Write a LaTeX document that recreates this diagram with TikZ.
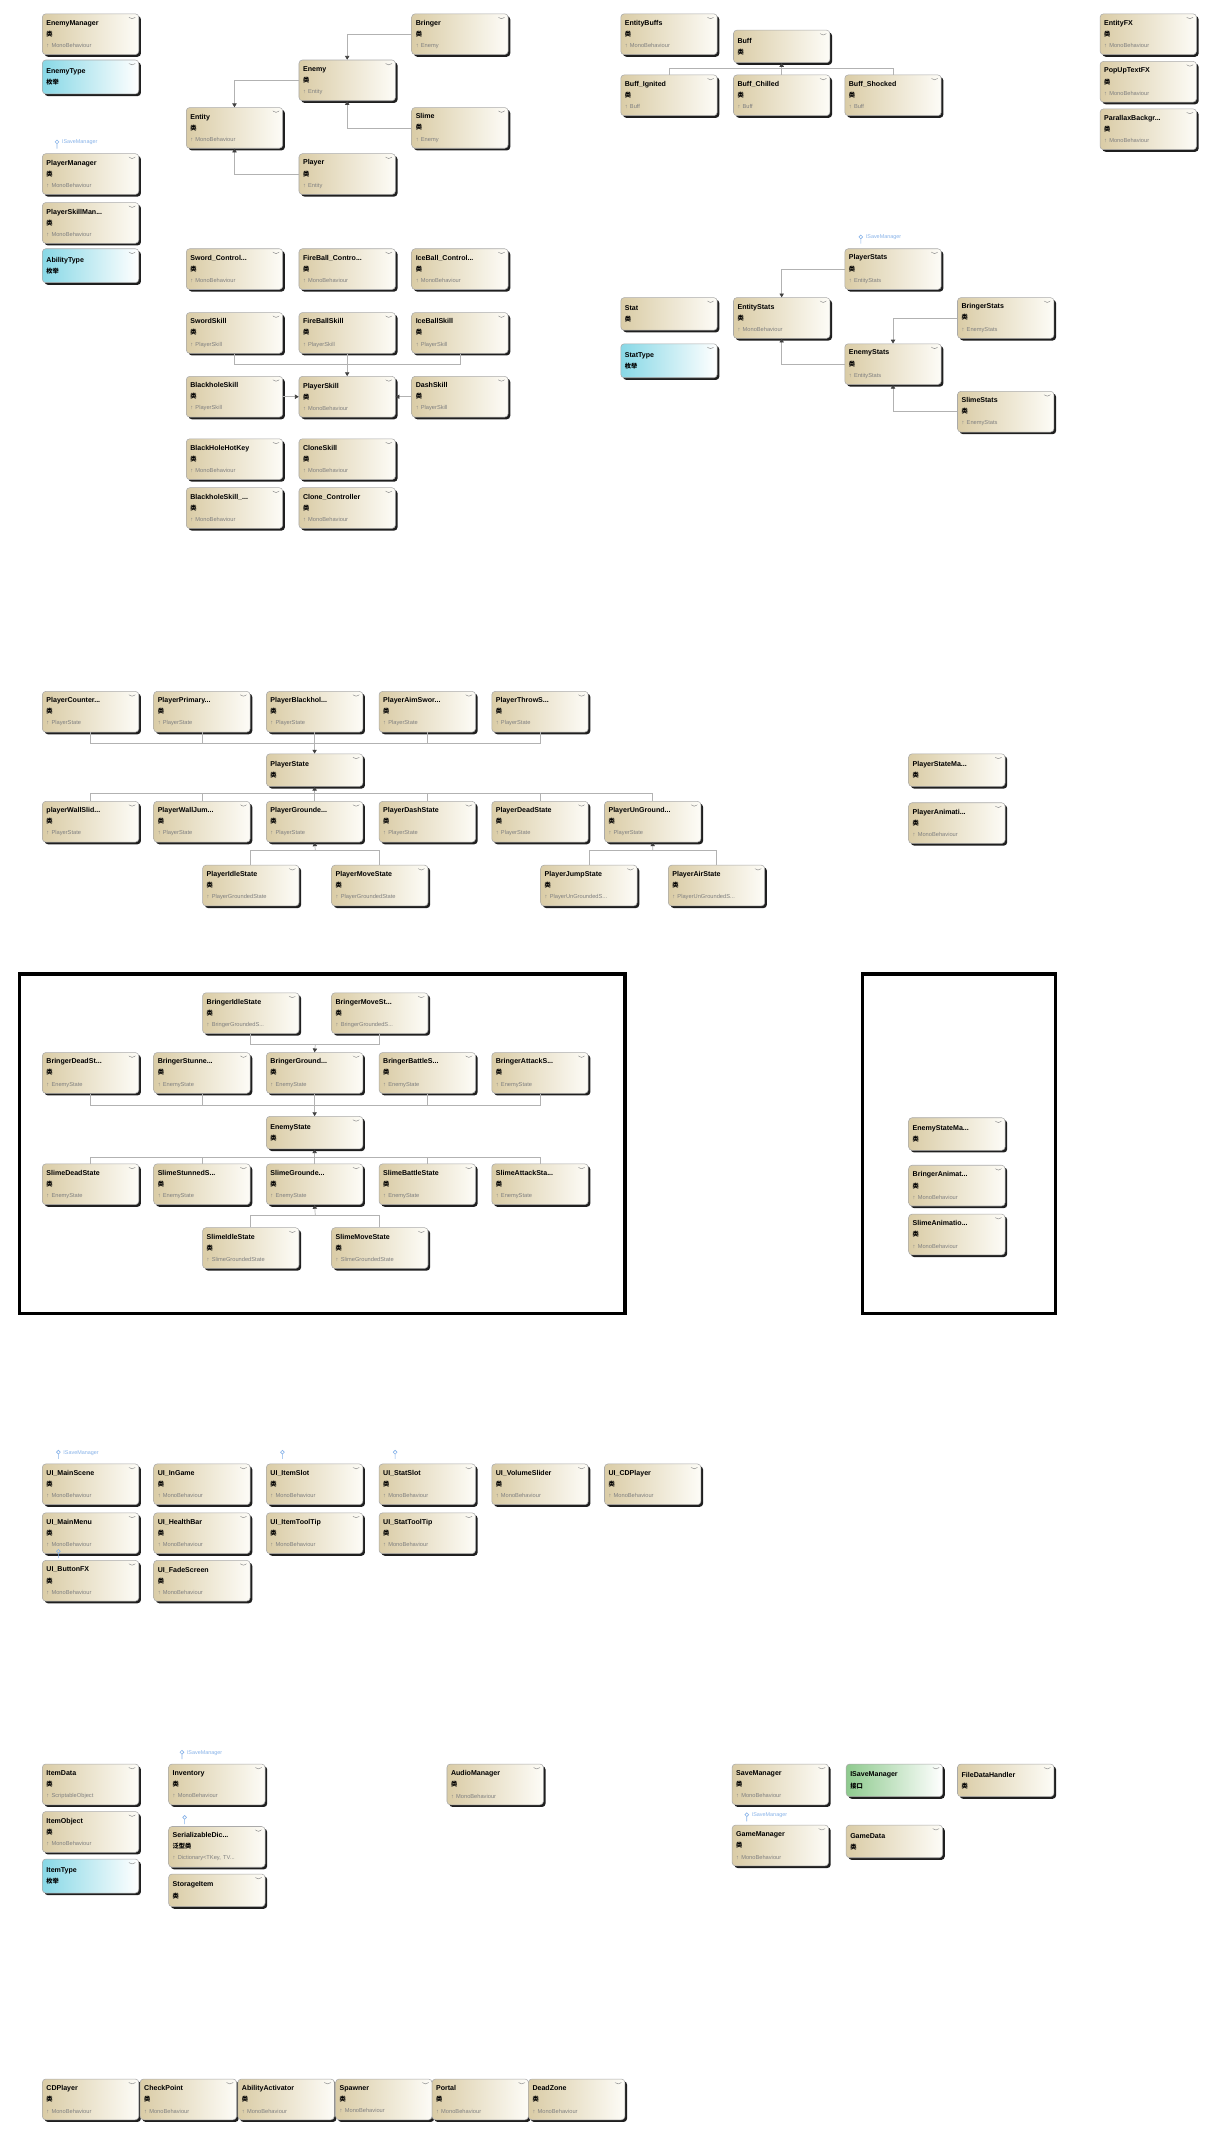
\documentclass[tikz,border=0pt]{standalone}
\usepackage{fontspec}
\setmainfont{Liberation Sans}
\newfontfamily\cjkf{Noto Sans CJK SC}
\usetikzlibrary{shadows,arrows.meta,calc}
\definecolor{tanL}{RGB}{218,204,166}
\definecolor{tanR}{RGB}{253,252,247}
\definecolor{enumL}{RGB}{136,216,230}
\definecolor{intfL}{RGB}{142,202,142}
\definecolor{edgeGray}{RGB}{170,170,170}
\definecolor{lineGray}{RGB}{178,178,178}
\definecolor{lollyBlue}{RGB}{135,178,232}
\newcommand\ttl[1]{{\bfseries\fontsize{5.2}{8.2}\selectfont #1}}
\newcommand\knd[1]{{\cjkf\bfseries\fontsize{4.6}{8.2}\selectfont #1}}
\newcommand\bse[1]{{\color{black!50}\fontsize{4.2}{8.2}\selectfont ↑ #1}}
\tikzset{
  box/.style={draw=edgeGray, line width=.4pt, rounded corners=2.5pt, anchor=north west,
    text width=65pt, align=left, inner xsep=3pt, inner ysep=2pt,
    font=\fontsize{5}{8.2}\selectfont,
    drop shadow={shadow xshift=1.6pt, shadow yshift=-1.6pt, fill=black!88, opacity=1},
    path picture={\draw[black!45, line width=.35pt]
      ([xshift=-6.5pt,yshift=-3pt]path picture bounding box.north east)
      -- ++(1.6pt,-1.6pt) -- ++(1.6pt,1.6pt);}},
  cbox/.style={box, left color=tanL, right color=tanR, minimum height=30pt},
  ctwobox/.style={box, left color=tanL, right color=tanR, minimum height=24pt},
  ebox/.style={box, left color=enumL, right color=white, minimum height=25pt},
  ibox/.style={box, left color=intfL, right color=white, minimum height=24pt},
  link/.style={draw=lineGray, line width=.5pt},
  inh/.style={link, -{Triangle[length=2.8pt,width=3.2pt,color=black!75]}},
  frame/.style={draw=black, line width=2.6pt, anchor=north west, inner sep=0pt},
  lolly/.style={anchor=west, inner sep=0pt, text=lollyBlue, font=\fontsize{4}{5}\selectfont},
  lollyc/.style={draw=lollyBlue, line width=.45pt}
}
\newcommand\mkcls[5]{\node[cbox] (#1) at (#2,#3) {\ttl{#4}\\\knd{类}\\\bse{#5}};}
\newcommand\mkctwo[4]{\node[ctwobox] (#1) at (#2,#3) {\ttl{#4}\\\knd{类}};}
\newcommand\mkenum[4]{\node[ebox] (#1) at (#2,#3) {\ttl{#4}\\\knd{枚举}};}
\newcommand\mkicon[2]{\draw[lollyc] (#1,#2-0.5) circle[radius=1.4pt] (#1,#2+0.9) -- (#1,#2+4.5);}
\newcommand\mklolly[4]{\mkicon{#2}{#3}\node[lolly] (#1) at (#2+3.5,#3) {#4};}
\begin{document}
\begin{tikzpicture}[x=1pt,y=-1pt]
\useasboundingbox (0,0) rectangle (892,1568);

% ---------- top left ----------
\mkcls{enemyMgr}{31}{10}{EnemyManager}{MonoBehaviour}
\mkenum{enemyType}{31}{44}{EnemyType}
\mklolly{lolA}{42}{105}{ISaveManager}
\mkcls{playerMgr}{31}{113}{PlayerManager}{MonoBehaviour}
\mkcls{skillMgr}{31}{149}{PlayerSkillMan...}{MonoBehaviour}
\mkenum{abilityType}{31}{183}{AbilityType}

% ---------- entity hierarchy ----------
\mkcls{bringer}{303}{10}{Bringer}{Enemy}
\mkcls{enemy}{220}{44}{Enemy}{Entity}
\mkcls{entity}{137}{79}{Entity}{MonoBehaviour}
\mkcls{slime}{303}{79}{Slime}{Enemy}
\mkcls{player}{220}{113}{Player}{Entity}
\draw[inh] (bringer.west) -| (enemy.north);
\draw[inh] (enemy.west) -| (entity.north);
\draw[inh] (slime.west) -| (enemy.south);
\draw[inh] (player.west) -| (entity.south);

% ---------- skills ----------
\mkcls{swordCtl}{137}{183}{Sword\_Control...}{MonoBehaviour}
\mkcls{fireCtl}{220}{183}{FireBall\_Contro...}{MonoBehaviour}
\mkcls{iceCtl}{303}{183}{IceBall\_Control...}{MonoBehaviour}
\mkcls{swordSk}{137}{230}{SwordSkill}{PlayerSkill}
\mkcls{fireSk}{220}{230}{FireBallSkill}{PlayerSkill}
\mkcls{iceSk}{303}{230}{IceBallSkill}{PlayerSkill}
\mkcls{bhSk}{137}{277}{BlackholeSkill}{PlayerSkill}
\mkcls{plSk}{220}{277}{PlayerSkill}{MonoBehaviour}
\mkcls{dashSk}{303}{277}{DashSkill}{PlayerSkill}
\mkcls{bhKey}{137}{323}{BlackHoleHotKey}{MonoBehaviour}
\mkcls{cloneSk}{220}{323}{CloneSkill}{MonoBehaviour}
\mkcls{bhCtl}{137}{359}{BlackholeSkill\_...}{MonoBehaviour}
\mkcls{cloneCtl}{220}{359}{Clone\_Controller}{MonoBehaviour}
\draw[link] (swordSk.south) -- ++(0,8) -| (iceSk.south);
\draw[inh] (fireSk.south) -- (plSk.north);
\draw[inh] (bhSk.east) -- (plSk.west);
\draw[inh] (dashSk.west) -- (plSk.east);

% ---------- buffs / fx ----------
\mkcls{entBuffs}{457}{10}{EntityBuffs}{MonoBehaviour}
\mkctwo{buff}{540}{22}{Buff}
\mkcls{buffIg}{457}{55}{Buff\_Ignited}{Buff}
\mkcls{buffCh}{540}{55}{Buff\_Chilled}{Buff}
\mkcls{buffSh}{622}{55}{Buff\_Shocked}{Buff}
\draw[link] (buffIg.north) -- ++(0,-5) -| (buffSh.north);
\draw[inh] (buffCh.north) -- (buff.south);
\mkcls{entFX}{810}{10}{EntityFX}{MonoBehaviour}
\mkcls{popFX}{810}{45}{PopUpTextFX}{MonoBehaviour}
\mkcls{parallax}{810}{80}{ParallaxBackgr...}{MonoBehaviour}

% ---------- stats ----------
\mklolly{lolB}{634}{175}{ISaveManager}
\mkcls{plStats}{622}{183}{PlayerStats}{EntityStats}
\mkctwo{stat}{457}{219}{Stat}
\mkcls{entStats}{540}{219}{EntityStats}{MonoBehaviour}
\mkcls{brStats}{705}{219}{BringerStats}{EnemyStats}
\mkenum{statType}{457}{253}{StatType}
\mkcls{enStats}{622}{253}{EnemyStats}{EntityStats}
\mkcls{slStats}{705}{288}{SlimeStats}{EnemyStats}
\draw[inh] (plStats.west) -| (entStats.north);
\draw[inh] (enStats.west) -| (entStats.south);
\draw[inh] (brStats.west) -| (enStats.north);
\draw[inh] (slStats.west) -| (enStats.south);

% ---------- player states ----------
\mkcls{pa1}{31}{509}{PlayerCounter...}{PlayerState}
\mkcls{pa2}{113}{509}{PlayerPrimary...}{PlayerState}
\mkcls{pa3}{196}{509}{PlayerBlackhol...}{PlayerState}
\mkcls{pa4}{279}{509}{PlayerAimSwor...}{PlayerState}
\mkcls{pa5}{362}{509}{PlayerThrowS...}{PlayerState}
\mkctwo{pState}{196}{555}{PlayerState}
\mkcls{pb1}{31}{590}{playerWallSlid...}{PlayerState}
\mkcls{pb2}{113}{590}{PlayerWallJum...}{PlayerState}
\mkcls{pb3}{196}{590}{PlayerGrounde...}{PlayerState}
\mkcls{pb4}{279}{590}{PlayerDashState}{PlayerState}
\mkcls{pb5}{362}{590}{PlayerDeadState}{PlayerState}
\mkcls{pb6}{445}{590}{PlayerUnGround...}{PlayerState}
\mkcls{pc1}{149}{637}{PlayerIdleState}{PlayerGroundedState}
\mkcls{pc2}{244}{637}{PlayerMoveState}{PlayerGroundedState}
\mkcls{pc3}{398}{637}{PlayerJumpState}{PlayerUnGroundedS...}
\mkcls{pc4}{492}{637}{PlayerAirState}{PlayerUnGroundedS...}
\draw[link] (pa1.south) -- ++(0,8) -| (pa5.south);
\draw[link] (pa2.south) -- ++(0,8) (pa4.south) -- ++(0,8);
\draw[inh] (pa3.south) -- (pState.north);
\draw[link] (pb1.north) -- ++(0,-6) -| (pb6.north);
\draw[link] (pb2.north) -- ++(0,-6) (pb4.north) -- ++(0,-6) (pb5.north) -- ++(0,-6);
\draw[inh] (pb3.north) -- (pState.south);
\draw[link] (pc1.north) -- ++(0,-11) -| (pc2.north);
\coordinate (jP1) at ($(pc1.north)!.5!(pc2.north)+(0,-11)$);
\draw[inh] (jP1) -- (pb3.south);
\draw[link] (pc3.north) -- ++(0,-11) -| (pc4.north);
\coordinate (jP2) at ($(pc3.north)!.5!(pc4.north)+(0,-11)$);
\draw[inh] (jP2) -- (pb6.south);
\mkctwo{plSM}{669}{555}{PlayerStateMa...}
\mkcls{plAnim}{669}{591}{PlayerAnimati...}{MonoBehaviour}

% ---------- enemy states ----------
\node[frame, minimum width=446pt, minimum height=250pt] (frameA) at (13,716) {};
\mkcls{ba1}{149}{731}{BringerIdleState}{BringerGroundedS...}
\mkcls{ba2}{244}{731}{BringerMoveSt...}{BringerGroundedS...}
\mkcls{bb1}{31}{775}{BringerDeadSt...}{EnemyState}
\mkcls{bb2}{113}{775}{BringerStunne...}{EnemyState}
\mkcls{bb3}{196}{775}{BringerGround...}{EnemyState}
\mkcls{bb4}{279}{775}{BringerBattleS...}{EnemyState}
\mkcls{bb5}{362}{775}{BringerAttackS...}{EnemyState}
\mkctwo{eState}{196}{822}{EnemyState}
\mkcls{sd1}{31}{857}{SlimeDeadState}{EnemyState}
\mkcls{sd2}{113}{857}{SlimeStunnedS...}{EnemyState}
\mkcls{sd3}{196}{857}{SlimeGrounde...}{EnemyState}
\mkcls{sd4}{279}{857}{SlimeBattleState}{EnemyState}
\mkcls{sd5}{362}{857}{SlimeAttackSta...}{EnemyState}
\mkcls{se1}{149}{904}{SlimeIdleState}{SlimeGroundedState}
\mkcls{se2}{244}{904}{SlimeMoveState}{SlimeGroundedState}
\draw[link] (ba1.south) -- ++(0,8) -| (ba2.south);
\coordinate (jE1) at ($(ba1.south)!.5!(ba2.south)+(0,8)$);
\draw[inh] (jE1) -- (bb3.north);
\draw[link] (bb1.south) -- ++(0,9) -| (bb5.south);
\draw[link] (bb2.south) -- ++(0,9) (bb4.south) -- ++(0,9);
\draw[inh] (bb3.south) -- (eState.north);
\draw[link] (sd1.north) -- ++(0,-5) -| (sd5.north);
\draw[link] (sd2.north) -- ++(0,-5) (sd4.north) -- ++(0,-5);
\draw[inh] (sd3.north) -- (eState.south);
\draw[link] (se1.north) -- ++(0,-9) -| (se2.north);
\coordinate (jE2) at ($(se1.north)!.5!(se2.north)+(0,-9)$);
\draw[inh] (jE2) -- (sd3.south);

\node[frame, minimum width=142pt, minimum height=250pt] (frameB) at (634,716) {};
\mkctwo{eSM}{669}{823}{EnemyStateMa...}
\mkcls{brAnim}{669}{858}{BringerAnimat...}{MonoBehaviour}
\mkcls{slAnim}{669}{894}{SlimeAnimatio...}{MonoBehaviour}

% ---------- UI ----------
\mklolly{lolC}{43}{1070}{ISaveManager}
\mkicon{208}{1070}
\mkicon{291}{1070}
\mkcls{ui1}{31}{1078}{UI\_MainScene}{MonoBehaviour}
\mkcls{ui2}{113}{1078}{UI\_InGame}{MonoBehaviour}
\mkcls{ui3}{196}{1078}{UI\_ItemSlot}{MonoBehaviour}
\mkcls{ui4}{279}{1078}{UI\_StatSlot}{MonoBehaviour}
\mkcls{ui5}{362}{1078}{UI\_VolumeSlider}{MonoBehaviour}
\mkcls{ui6}{445}{1078}{UI\_CDPlayer}{MonoBehaviour}
\mkcls{ui7}{31}{1114}{UI\_MainMenu}{MonoBehaviour}
\mkcls{ui8}{113}{1114}{UI\_HealthBar}{MonoBehaviour}
\mkcls{ui9}{196}{1114}{UI\_ItemToolTip}{MonoBehaviour}
\mkcls{ui10}{279}{1114}{UI\_StatToolTip}{MonoBehaviour}
\mkicon{43}{1143}
\mkcls{ui11}{31}{1149}{UI\_ButtonFX}{MonoBehaviour}
\mkcls{ui12}{113}{1149}{UI\_FadeScreen}{MonoBehaviour}

% ---------- items / managers ----------
\mkcls{itemData}{31}{1299}{ItemData}{ScriptableObject}
\mkcls{itemObj}{31}{1334}{ItemObject}{MonoBehaviour}
\mkenum{itemType}{31}{1369}{ItemType}
\mklolly{lolD}{134}{1291}{ISaveManager}
\mkcls{inventory}{124}{1299}{Inventory}{MonoBehaviour}
\mkicon{136}{1339}
\node[cbox] (serDict) at (124,1345) {\ttl{SerializableDic...}\\\knd{泛型类}\\\bse{Dictionary<TKey, TV...}};
\mkctwo{storage}{124}{1380}{StorageItem}
\mkcls{audio}{329}{1299}{AudioManager}{MonoBehaviour}
\mkcls{saveMgr}{539}{1299}{SaveManager}{MonoBehaviour}
\node[ibox] (iSave) at (623,1299) {\ttl{ISaveManager}\\\knd{接口}};
\mkctwo{fileData}{705}{1299}{FileDataHandler}
\mklolly{lolE}{550}{1337}{ISaveManager}
\mkcls{gameMgr}{539}{1344}{GameManager}{MonoBehaviour}
\mkctwo{gameData}{623}{1344}{GameData}

% ---------- bottom row ----------
\mkcls{cdPlayer}{31}{1531}{CDPlayer}{MonoBehaviour}
\mkcls{checkPt}{103}{1531}{CheckPoint}{MonoBehaviour}
\mkcls{abilAct}{175}{1531}{AbilityActivator}{MonoBehaviour}
\mkcls{spawner}{247}{1531}{Spawner}{MonoBehaviour}
\mkcls{portal}{318}{1531}{Portal}{MonoBehaviour}
\mkcls{deadZone}{389}{1531}{DeadZone}{MonoBehaviour}
\end{tikzpicture}
\end{document}
